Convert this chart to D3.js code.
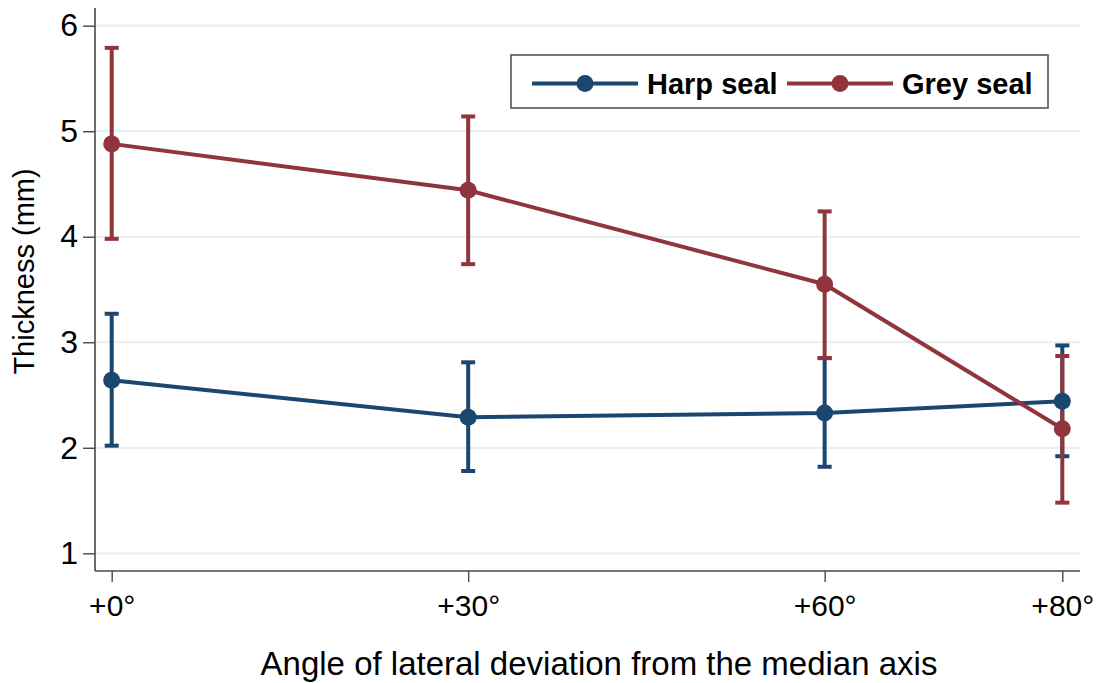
<!DOCTYPE html>
<html>
<head>
<meta charset="utf-8">
<script src="https://cdn.jsdelivr.net/npm/d3@7"></script>
<style>
  html, body { margin: 0; padding: 0; background: #fff; }
  svg { display: block; font-family: "Liberation Sans", Arial, sans-serif; }
</style>
</head>
<body>
<svg id="chart" width="1099" height="683"></svg>
<script>
// ---- data ----
const angles = [0, 30, 60, 80];
const angleLabels = ["+0°", "+30°", "+60°", "+80°"];
const harpMean = [2.64, 2.29, 2.33, 2.44];
const harpLow  = [2.02, 1.78, 1.82, 1.92];
const harpHigh = [3.27, 2.81, 2.85, 2.97];
const greyMean = [4.88, 4.44, 3.55, 2.18];
const greyLow  = [3.98, 3.74, 2.85, 1.48];
const greyHigh = [5.79, 5.14, 4.24, 2.87];
const yTicks = [1, 2, 3, 4, 5, 6];
const seriesNames = ["Harp seal", "Grey seal"];
const seriesColors = ["#1a476f", "#90353b"];

const svg = d3.select("#chart");

const x = d3.scaleLinear().domain([0, 80]).range([111.7, 1062.3]);
const y = d3.scaleLinear().domain([1, 6]).range([553.3, 25.7]);

const plotLeft = 95, plotRight = 1080, plotTop = 8, plotBottom = 571;
const axisColor = "#4a4a4a";
const font = "Liberation Sans, Arial, sans-serif";

// gridlines
svg.append("g").selectAll("line").data(yTicks).join("line")
  .attr("x1", plotLeft).attr("x2", plotRight)
  .attr("y1", d => y(d)).attr("y2", d => y(d))
  .attr("stroke", "#e6eff1").attr("stroke-width", 2.2);

// y axis
const yAxis = d3.axisLeft(y).tickValues(yTicks).tickSize(12).tickPadding(5).tickFormat(d3.format("d"));
const gy = svg.append("g").attr("transform", `translate(${plotLeft},0)`).call(yAxis);
gy.select(".domain").remove();
gy.selectAll(".tick line").attr("stroke", axisColor).attr("stroke-width", 1.4);
gy.selectAll(".tick text").attr("font-size", 32).attr("fill", "#000").attr("font-family", font);
svg.append("line").attr("x1", plotLeft).attr("x2", plotLeft)
  .attr("y1", plotTop).attr("y2", plotBottom)
  .attr("stroke", axisColor).attr("stroke-width", 1.6);

// x axis
const xAxis = d3.axisBottom(x).tickValues(angles).tickSize(11).tickPadding(13)
  .tickFormat((d, i) => angleLabels[i]);
const gx = svg.append("g").attr("transform", `translate(0,${plotBottom})`).call(xAxis);
gx.select(".domain").remove();
gx.selectAll(".tick line").attr("stroke", axisColor).attr("stroke-width", 1.4);
gx.selectAll(".tick text").attr("font-size", 30).attr("fill", "#000").attr("font-family", font);
svg.append("line").attr("x1", plotLeft).attr("x2", plotRight)
  .attr("y1", plotBottom).attr("y2", plotBottom)
  .attr("stroke", axisColor).attr("stroke-width", 1.6);

// titles
svg.append("text").attr("x", 599).attr("y", 675).attr("text-anchor", "middle")
  .attr("font-size", 33).attr("fill", "#000")
  .text("Angle of lateral deviation from the median axis");
svg.append("text").attr("transform", "translate(34,271.5) rotate(-90)")
  .attr("text-anchor", "middle").attr("font-size", 29).attr("fill", "#000")
  .text("Thickness (mm)");

// series
const series = [
  { name: seriesNames[0], color: seriesColors[0], mean: harpMean, low: harpLow, high: harpHigh },
  { name: seriesNames[1], color: seriesColors[1], mean: greyMean, low: greyLow, high: greyHigh }
];
const capW = 7;
const sw = 4;

// error bars first
series.forEach(s => {
  const g = svg.append("g").attr("stroke", s.color).attr("stroke-width", sw);
  angles.forEach((a, i) => {
    g.append("line").attr("x1", x(a)).attr("x2", x(a)).attr("y1", y(s.low[i])).attr("y2", y(s.high[i]));
    g.append("line").attr("x1", x(a) - capW).attr("x2", x(a) + capW).attr("y1", y(s.low[i])).attr("y2", y(s.low[i]));
    g.append("line").attr("x1", x(a) - capW).attr("x2", x(a) + capW).attr("y1", y(s.high[i])).attr("y2", y(s.high[i]));
  });
});

// lines + markers
series.forEach(s => {
  const pts = angles.map((a, i) => [a, s.mean[i]]);
  svg.append("path").datum(pts)
    .attr("d", d3.line().x(d => x(d[0])).y(d => y(d[1])))
    .attr("fill", "none").attr("stroke", s.color).attr("stroke-width", sw);
  svg.append("g").selectAll("circle").data(pts).join("circle")
    .attr("cx", d => x(d[0])).attr("cy", d => y(d[1])).attr("r", 8.5)
    .attr("fill", s.color);
});

// legend
const lg = svg.append("g");
lg.append("rect").attr("x", 511).attr("y", 55).attr("width", 537).attr("height", 53)
  .attr("fill", "#fff").attr("stroke", "#555").attr("stroke-width", 1.6);
const legendItems = [
  { x0: 532, x1: 638, tx: 647 },
  { x0: 787, x1: 893, tx: 902 }
];
series.forEach((s, i) => {
  const it = legendItems[i];
  const ly = 83.5;
  lg.append("line").attr("x1", it.x0).attr("x2", it.x1).attr("y1", ly).attr("y2", ly)
    .attr("stroke", s.color).attr("stroke-width", sw);
  lg.append("circle").attr("cx", (it.x0 + it.x1) / 2).attr("cy", ly).attr("r", 8.5).attr("fill", s.color);
  lg.append("text").attr("x", it.tx).attr("y", ly + 10.5).attr("font-size", 29)
    .attr("font-weight", "bold").attr("fill", "#000").text(s.name);
});
</script>
</body>
</html>
